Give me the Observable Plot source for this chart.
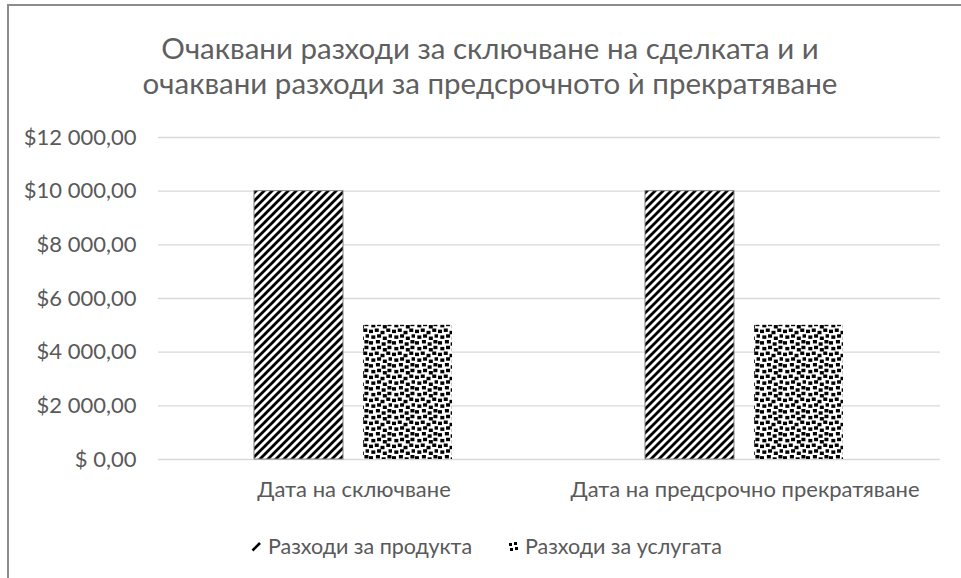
<!DOCTYPE html>
<html>
<head>
<meta charset="utf-8">
<script src="https://cdn.jsdelivr.net/npm/d3@7"></script>
<script src="https://cdn.jsdelivr.net/npm/@observablehq/plot@0.6"></script>
<style>
  html, body { margin: 0; padding: 0; background: #fff; }
  #wrap { position: relative; width: 961px; height: 578px; overflow: hidden; font-family: Lato, "Open Sans", sans-serif; color: #595959; }
  #frame { position: absolute; left: 7px; top: 4px; width: 970px; height: 590px; border-top: 2px solid #8c8c8c; border-left: 2px solid #8c8c8c; }
  #title { position: absolute; left: 0; top: 30px; width: 980px; text-align: center; font-size: 29.5px; line-height: 35px; color: #5f5f5f; }
  #chart { position: absolute; left: 0; top: 110px; }
  .leg { position: absolute; top: 532px; font-size: 21.5px; line-height: 28px; display: flex; align-items: center; gap: 6px; white-space: nowrap; }
</style>
</head>
<body>
<svg width="0" height="0" style="position:absolute">
  <defs>
    <pattern id="hatch" patternUnits="userSpaceOnUse" width="8" height="8">
      <rect width="8" height="8" fill="#fff"/>
      <path d="M-2,2 L2,-2 M0,8 L8,0 M6,10 L10,6" stroke="#000" stroke-width="2.8"/>
    </pattern>
    <pattern id="confetti" patternUnits="userSpaceOnUse" width="20" height="20" patternTransform="scale(1.15)">
      <rect width="20" height="20" fill="#fff"/>
      <g fill="#000">
        <rect x="0" y="1" width="3.5" height="3"/>
        <rect x="6" y="0" width="3.5" height="3"/>
        <rect x="11" y="2" width="3.5" height="3"/>
        <rect x="16" y="0" width="3.5" height="3"/>
        <rect x="2" y="6" width="3.5" height="3"/>
        <rect x="7" y="5" width="3.5" height="3"/>
        <rect x="12" y="7" width="3.5" height="3"/>
        <rect x="16" y="5" width="3.5" height="3"/>
        <rect x="0" y="11" width="3.5" height="3"/>
        <rect x="5" y="10" width="3.5" height="3"/>
        <rect x="10" y="12" width="3.5" height="3"/>
        <rect x="15" y="10" width="3.5" height="3"/>
        <rect x="2" y="16" width="3.5" height="3"/>
        <rect x="7" y="15" width="3.5" height="3"/>
        <rect x="12" y="17" width="3.5" height="3"/>
        <rect x="17" y="15" width="3" height="3"/>
      </g>
    </pattern>
  </defs>
</svg>
<div id="wrap">
  <div id="frame"></div>
  <div id="title">Очаквани разходи за сключване на сделката и и<br>очаквани разходи за предсрочното ѝ прекратяване</div>
  <div id="chart"></div>
  <div class="leg" style="left:251px"><svg width="11" height="11"><path d="M1.5,9.5 L9,2" stroke="#000" stroke-width="2.6"/></svg><span id="l1"></span></div>
  <div class="leg" style="left:508px"><svg width="11" height="11"><g fill="#000"><rect x="1" y="2" width="3" height="3"/><rect x="6" y="1" width="3" height="3"/><rect x="2" y="7" width="3" height="3"/><rect x="7" y="6" width="3" height="3"/></g></svg><span id="l2"></span></div>
</div>
<script>
const categories = ["Дата на сключване", "Дата на предсрочно прекратяване"];
const series = ["Разходи за продукта", "Разходи за услугата"];
const productValues = [10000, 10000];
const serviceValues = [5000, 5000];
const yTicks = [0, 2000, 4000, 6000, 8000, 10000, 12000];

const data = categories.flatMap((c, i) => [
  {cat: c, series: series[0], value: productValues[i]},
  {cat: c, series: series[1], value: serviceValues[i]}
]);

const locale = d3.formatLocale({thousands: " ", decimal: ",", grouping: [3], currency: ["$", ""]});
const money = locale.format("$,.2f");
const fmt = d => d === 0 ? "$ 0,00" : money(d);

const chart = Plot.plot({
  width: 961,
  height: 410,
  marginLeft: 157,
  marginRight: 21,
  marginTop: 27,
  marginBottom: 61,
  style: {fontFamily: "Lato, 'Open Sans', sans-serif", fontSize: "22px", color: "#595959", background: "transparent"},
  fx: {domain: categories, padding: 0, label: null, tickSize: 0, tickPadding: 22},
  x: {domain: series, axis: null, paddingInner: 0.183, paddingOuter: 0.877},
  y: {domain: [0, 12000], ticks: yTicks, tickFormat: fmt, tickSize: 0, tickPadding: 22, label: null},
  color: {domain: series, range: ["url(#hatch)", "url(#confetti)"]},
  marks: [
    Plot.ruleY(yTicks, {stroke: "#d9d9d9", strokeWidth: 1.3}),
    Plot.barY(data, {fx: "cat", x: "series", y: "value", fill: "series",
      stroke: d => d.series === series[0] ? "#808080" : "none", strokeWidth: 1})
  ]
});
document.getElementById("chart").appendChild(chart);
document.getElementById("l1").textContent = series[0];
document.getElementById("l2").textContent = series[1];
</script>
</body>
</html>
